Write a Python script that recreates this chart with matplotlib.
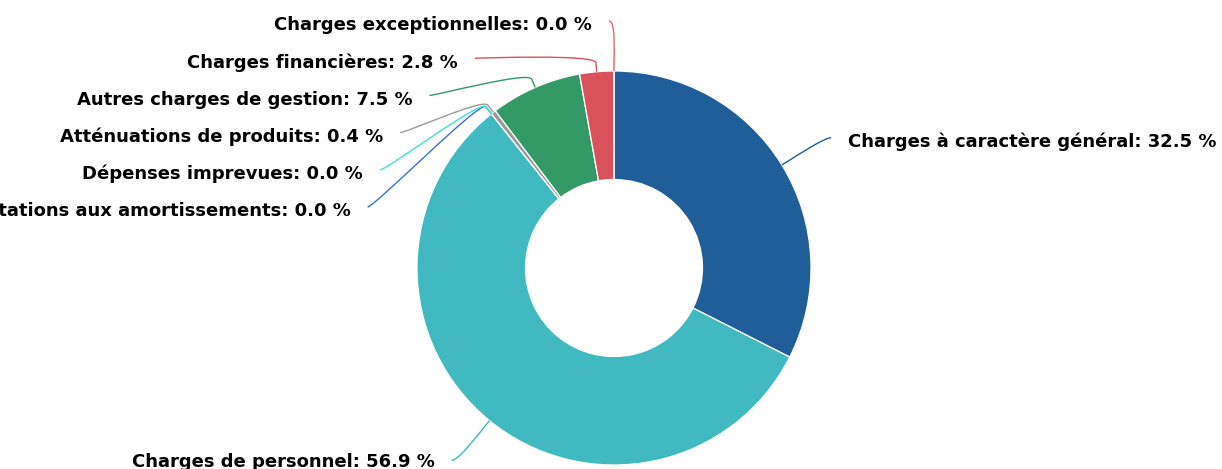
import matplotlib
matplotlib.use("Agg")
import matplotlib.pyplot as plt
import numpy as np
from matplotlib.path import Path
from matplotlib.patches import PathPatch

labels = ["Charges à caractère général", "Charges de personnel",
          "Dotations aux amortissements", "Dépenses imprevues",
          "Atténuations de produits", "Autres charges de gestion",
          "Charges financières", "Charges exceptionnelles"]
shares = [32.5, 56.9, 0.0, 0.0, 0.4, 7.5, 2.8, 0.0]
colors = ["#1f5e99", "#41b9c1", "#3a6fd8", "#3fe0d0",
          "#9a9a9a", "#339966", "#d9525a", "#e06470"]

W, H = 1222, 469
cx, cy = 614, H - 268          # pixel space, y up
R, R_in = 197, 88.5
r_lab = 249                    # circle where connectors end
brk = 9                        # radial stub before the bend
step = 37.2                    # min vertical spacing between labels
y_top, y_bot = H - 21, H - 460.4

fig = plt.figure(figsize=(W / 100, H / 100), dpi=100)
ax = fig.add_axes([0, 0, 1, 1])

wedges, _ = ax.pie(shares, colors=colors, startangle=90, counterclock=False,
                   radius=R, center=(cx, cy),
                   wedgeprops=dict(width=R - R_in, edgecolor="white", linewidth=0.9))
ax.set_xlim(0, W)
ax.set_ylim(0, H)
ax.set_aspect("equal")
ax.axis("off")

# slice mid angle, clockwise from 12 o'clock
s = np.array(shares)
clock = 360 * (np.cumsum(s) - s / 2) / s.sum()
mids = np.radians(90 - clock)
ny = cy + r_lab * np.sin(mids)
is_left = clock > 180

# stack labels on each side from the top down
pos = {}
for side in (True, False):
    idx = [i for i in range(len(shares)) if is_left[i] == side]
    idx = idx[::-1] if side else idx
    prev = None
    for i in idx:
        y = min(ny[i], y_top)
        pushed = prev is not None and y > prev - step
        if pushed:
            y = prev - step
        y = max(y, y_bot)
        yy = y if pushed else ny[i]
        dx = np.sqrt(max(r_lab ** 2 - (yy - cy) ** 2, 0))
        sgn = -1 if side else 1
        pos[i] = (cx + sgn * (dx + 5), y, sgn)
        prev = y

for i, w in enumerate(wedges):
    m = mids[i]
    lx, ly, sgn = pos[i]
    T = np.array([cx + R * np.cos(m), cy + R * np.sin(m)])
    B = np.array([cx + (R + brk) * np.cos(m), cy + (R + brk) * np.sin(m)])
    c1 = (lx - 7 * sgn, ly)
    c2 = 2 * B - T
    path = Path([(lx, ly), c1, tuple(c2), tuple(B), tuple(T)],
                [Path.MOVETO, Path.CURVE4, Path.CURVE4, Path.CURVE4, Path.LINETO])
    ax.add_patch(PathPatch(path, fill=False, edgecolor=colors[i], linewidth=1.0))

    ty = max(ly - 2.7, H - 460)
    ax.text(lx + sgn * 17, ty - 6.6, f"{labels[i]}: {shares[i]:.1f} %",
            ha="right" if sgn < 0 else "left", va="baseline",
            fontsize=13, fontweight="bold", color="#000000")

fig.savefig("out.png", dpi=100)
